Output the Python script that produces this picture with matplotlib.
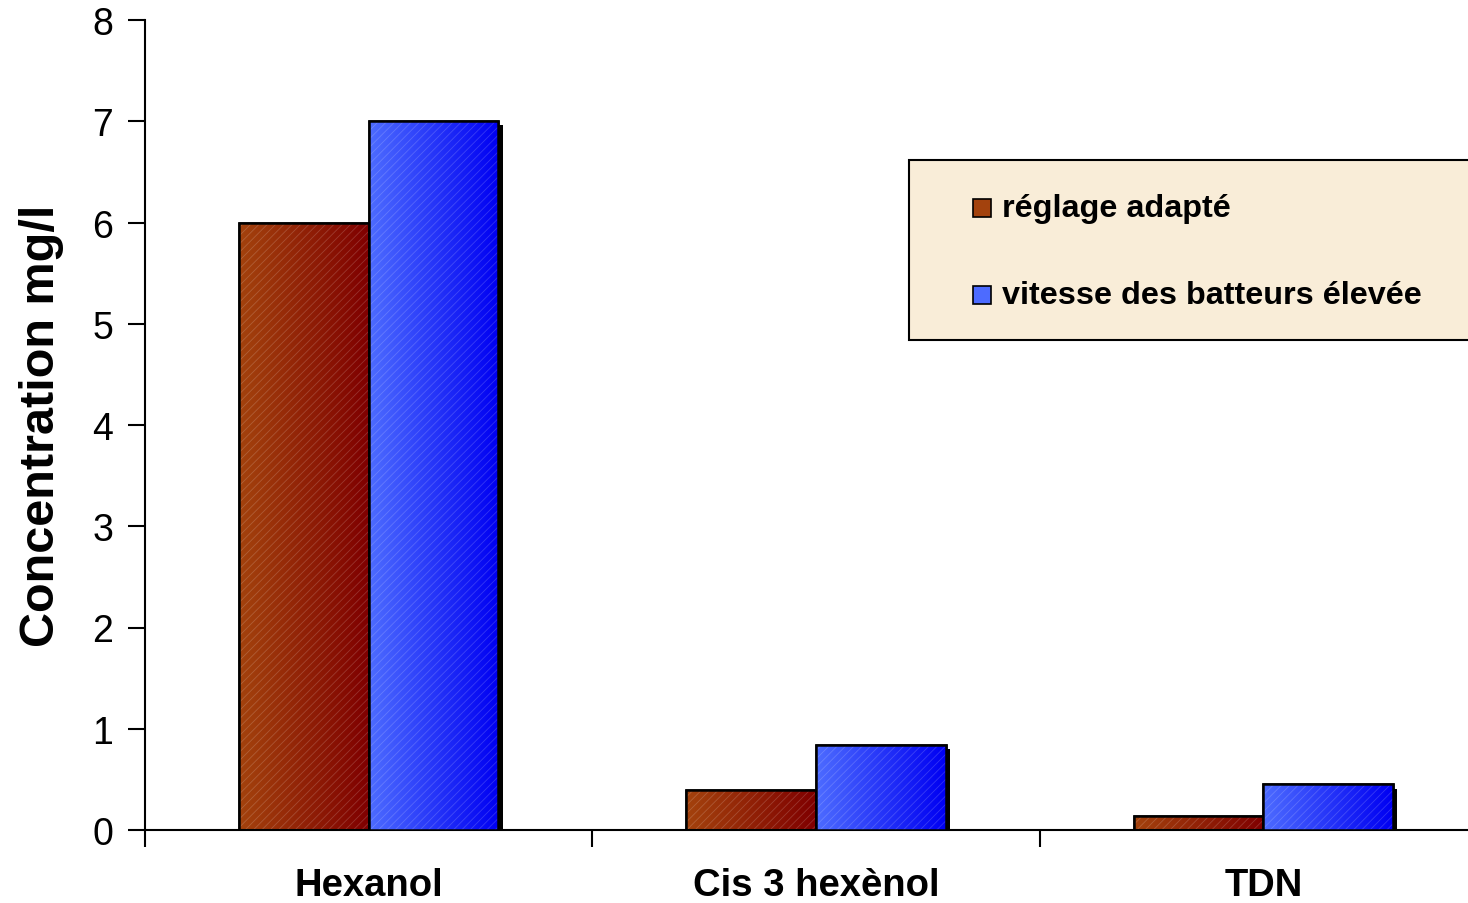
import matplotlib
matplotlib.use('Agg')
import matplotlib.pyplot as plt
import matplotlib.patheffects as pe
from matplotlib.patches import Rectangle
import numpy as np

plt.rcParams['font.family'] = ['Liberation Sans', 'DejaVu Sans']
plt.rcParams['hatch.linewidth'] = 0.6

# data
categories = ['Hexanol', 'Cis 3 hexènol', 'TDN']
series = ['réglage adapté', 'vitesse des batteurs élevée']
reglage = [6.0, 0.4, 0.14]
vitesse = [7.0, 0.84, 0.45]
y_ticks = [0, 1, 2, 3, 4, 5, 6, 7, 8]

# gradient colours (left -> right) for each series
grad = [((0.64, 0.26, 0.05), (0.50, 0.0, 0.0)),
        ((0.30, 0.42, 1.0), (0.0, 0.0, 0.95))]

fig = plt.figure(figsize=(14.68, 9.04), dpi=100)
ax = fig.add_axes([145/1468, 73/904, 1342/1468, 810/904])

w = 0.29
x = np.arange(len(categories)) + 0.5
shadow = [pe.SimplePatchShadow(offset=(3, -3), shadow_rgbFace='black', alpha=1.0), pe.Normal()]

for i, vals in enumerate([reglage, vitesse]):
    left = x - w if i == 0 else x
    bars = ax.bar(left, vals, w, align='edge', facecolor='none', edgecolor='black',
                  linewidth=1.8, zorder=2 + i)
    c0, c1 = grad[i]
    g = np.linspace(0, 1, 64)
    img = np.array([[tuple(c0[k] + (c1[k] - c0[k]) * t for k in range(3)) for t in g]])
    for b in bars:
        b.set_path_effects(shadow)
        bx, by, bw, bh = b.get_x(), b.get_y(), b.get_width(), b.get_height()
        im = ax.imshow(img, extent=(bx, bx + bw, by, by + bh), aspect='auto',
                       interpolation='bilinear', zorder=2.3 + i)
        im.set_clip_path(b)
        ax.add_patch(Rectangle((bx, by), bw, bh, facecolor='none', edgecolor=(1, 1, 1, 0.18),
                               hatch='////', linewidth=0, zorder=2.4 + i))
        ax.add_patch(Rectangle((bx, by), bw, bh, facecolor='none', edgecolor='black',
                               linewidth=1.8, zorder=2.5 + i))

ax.set_xlim(0, 3)
ax.set_ylim(0, 8)
ax.set_yticks(y_ticks)
ax.set_yticklabels([str(t) for t in y_ticks], fontsize=27)
ax.set_xticks([0, 1, 2, 3])
ax.set_xticklabels([])
ax.set_xticks(x, minor=True)
ax.set_xticklabels(categories, minor=True, fontsize=27.5, fontweight='bold')
ax.tick_params(axis='x', which='minor', length=0, pad=27)
ax.tick_params(axis='both', which='major', length=12, width=1.5, direction='out')
ax.tick_params(axis='y', pad=11)
ax.spines['top'].set_visible(False)
ax.spines['right'].set_visible(False)
ax.spines['left'].set_linewidth(1.5)
ax.spines['bottom'].set_linewidth(1.5)
ax.set_ylabel('Concentration mg/l', fontsize=35, fontweight='bold')
ax.yaxis.set_label_coords(-0.060, 0.50)

# legend box, drawn by hand so it runs off the right edge like the original
fig.patches.append(Rectangle((909/1468, 1 - 341/904), 600/1468, 180/904, transform=fig.transFigure,
                             facecolor='#f9edd8', edgecolor='black', linewidth=1.5, zorder=5))
for i, name in enumerate(series):
    yc = 1 - (209 + 87 * i) / 904
    c0, c1 = grad[i]
    fig.patches.append(Rectangle((973/1468, yc - 9/904), 18/1468, 18/904, transform=fig.transFigure,
                                 facecolor=c0, edgecolor='black', linewidth=1.2, zorder=6))
    fig.text(1002/1468, yc, name, fontsize=23.3, fontweight='bold', va='center', ha='left', zorder=7)

fig.savefig('out.png', dpi=100)
